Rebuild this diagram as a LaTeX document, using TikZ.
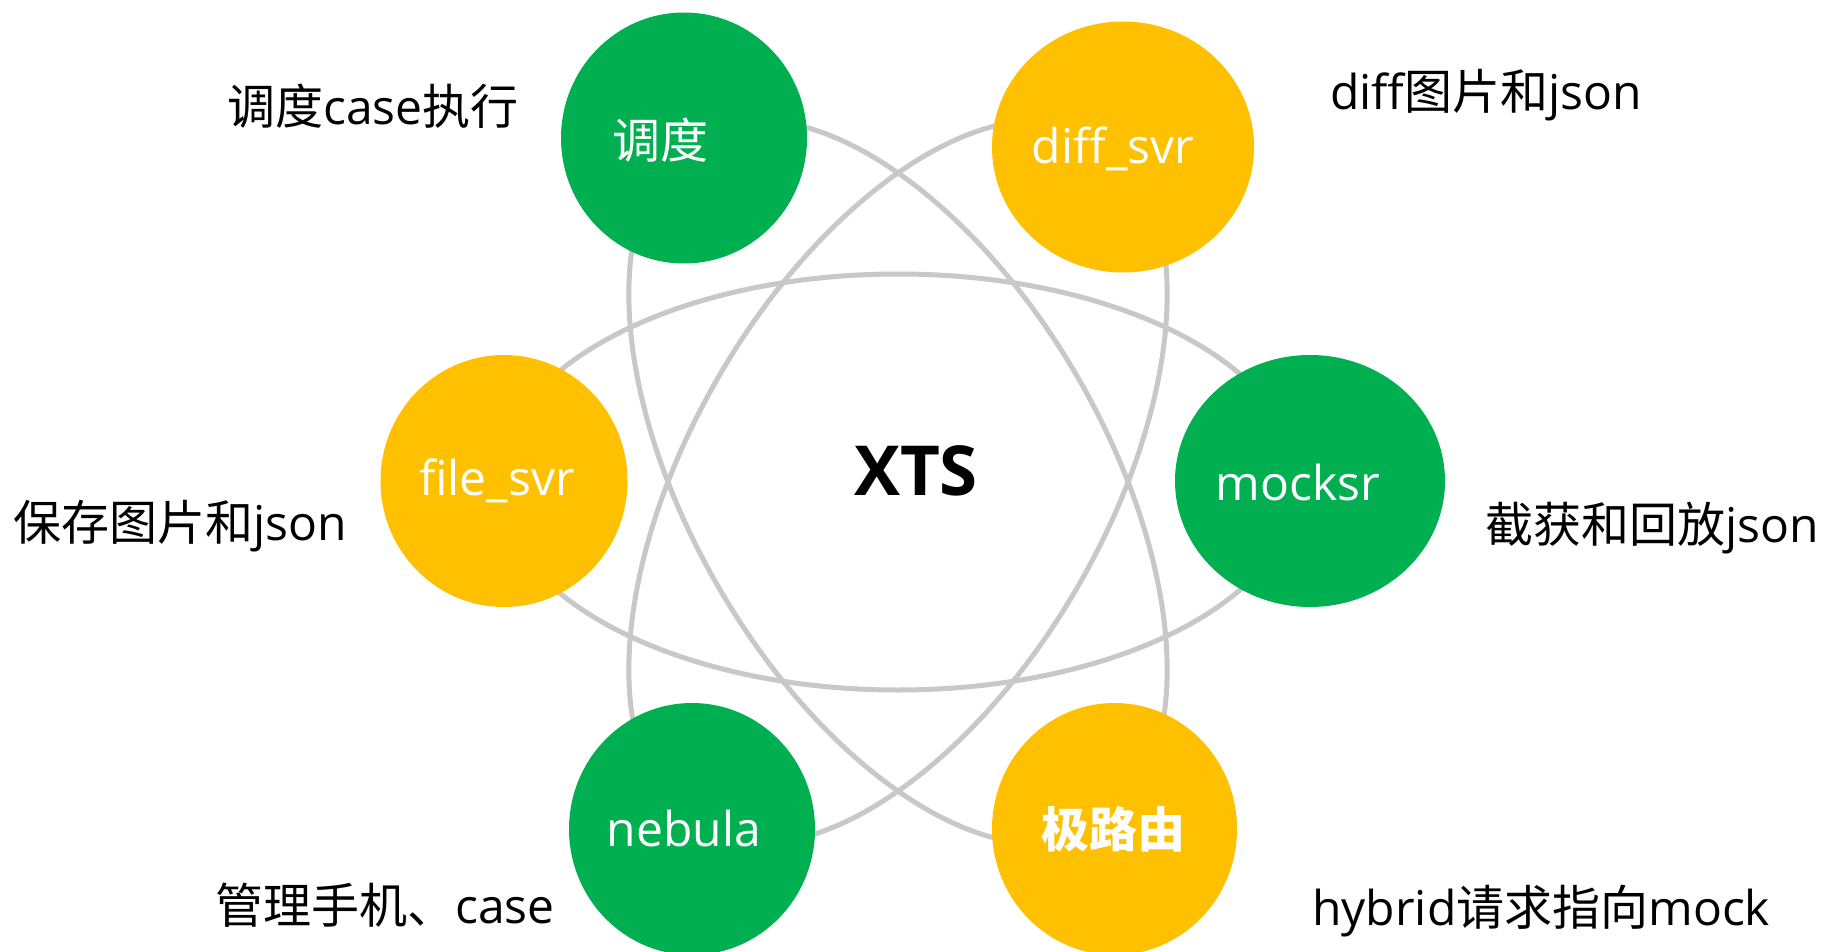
\documentclass[tikz,border=0pt]{standalone}
\usepackage{fontspec}
\setmainfont{Open Sans}
\newfontfamily\cjk{Noto Sans CJK SC}
\usetikzlibrary{shapes.geometric}
\definecolor{xgreen}{RGB}{0,176,80}
\definecolor{xyellow}{RGB}{255,192,0}
\definecolor{ringgray}{RGB}{200,200,200}
\begin{document}
\begin{tikzpicture}[x=1pt,y=1pt,
  ring/.style={draw=ringgray, line width=5pt},
  gball/.style={ellipse, fill=xgreen, draw=none, inner sep=0pt},
  yball/.style={ellipse, fill=xyellow, draw=none, inner sep=0pt},
  intext/.style={text=white, inner sep=0pt, font=\fontsize{48}{58}\selectfont},
  lbl/.style={anchor=base west, inner sep=0pt, text=black, font=\fontsize{48}{58}\selectfont}]
\useasboundingbox[fill=white] (0,0) rectangle (1823,-952);
\coordinate (c) at (898,-482);
% orbits
\draw[ring] (c) ellipse [x radius=400, y radius=208];
\draw[ring, rotate around={60:(c)}] (c) ellipse [x radius=400, y radius=208];
\draw[ring, rotate around={120:(c)}] (c) ellipse [x radius=400, y radius=208];
% balls
\node[gball, minimum width=246, minimum height=251] (sched) at (684,-138) {};
\node[yball, minimum width=262, minimum height=251] (diff) at (1123,-147) {};
\node[yball, minimum width=247, minimum height=252] (file) at (504,-481) {};
\node[gball, minimum width=270, minimum height=252] (mock) at (1310,-481) {};
\node[gball, minimum width=246, minimum height=252] (neb) at (692,-829) {};
\node[yball, minimum width=245, minimum height=252] (router) at (1114.5,-829) {};
% ball texts
\node[intext] (schedt) at (660,-140) {\cjk 调度};
\node[intext] (difft) at (1113,-149) {diff\_svr};
\node[intext] (filet) at (497,-481) {file\_svr};
\node[intext] (mockt) at (1298,-482) {mocksr};
\node[intext] (nebt) at (684,-828) {nebula};
\node[intext] (routert) at (1113,-829) {\cjk\bfseries 极路由};
\node[inner sep=0pt, font=\fontsize{69}{80}\selectfont\bfseries] (xts) at (916,-471) {XTS};
% side labels
\node[lbl] (l1) at (227,-125) {{\cjk 调度}case{\cjk 执行}};
\node[lbl] (l2) at (1330,-110) {diff{\cjk 图片和}json};
\node[lbl] (l3) at (13,-540) {{\cjk 保存图片和}json};
\node[lbl] (l4) at (1485,-542) {{\cjk 截获和回放}json};
\node[lbl] (l5) at (215,-923) {{\cjk 管理手机、}case};
\node[lbl] (l6) at (1312,-925) {hybrid{\cjk 请求指向}mock};
\end{tikzpicture}
\end{document}
